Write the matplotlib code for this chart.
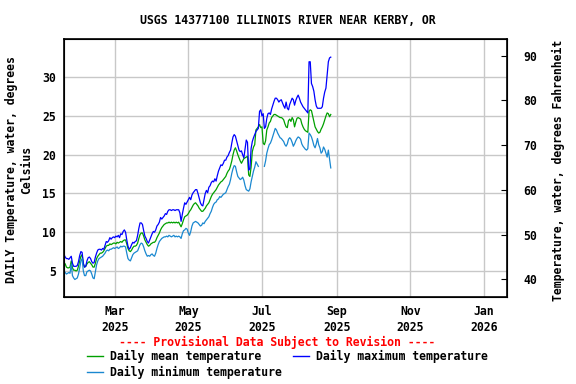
import numpy as np
import pandas as pd
import matplotlib
matplotlib.use('Agg')
import matplotlib.pyplot as plt
import matplotlib.dates as mdates

plt.rcParams['font.family'] = ['DejaVu Sans Mono']
plt.rcParams['font.weight'] = 'bold'

title = 'USGS 14377100 ILLINOIS RIVER NEAR KERBY, OR'
start_date = '2025-01-18'

# daily maximum, deg C
temp_max = [
    7.1, 6.8, 6.6, 6.6, 6.5, 6.7, 6.9, 6.0, 5.6, 5.6,
    5.6, 5.7, 6.2, 7.0, 7.5, 7.4, 6.0, 5.5, 5.6, 6.3,
    6.7, 6.8, 6.6, 6.2, 6.0, 6.1, 6.8, 7.3, 7.7, 7.8,
    7.8, 7.7, 7.9, 7.8, 8.3, 8.8, 8.7, 8.9, 9.3, 9.1,
    9.3, 9.4, 9.3, 9.5, 9.4, 9.6, 9.3, 9.8, 9.7, 10.1,
    10.3, 10.0, 9.0, 8.2, 7.8, 8.0, 8.4, 8.7, 8.6, 8.8,
    8.9, 9.6, 10.5, 11.2, 11.2, 11.0, 10.2, 9.5, 9.2, 8.8,
    8.6, 9.0, 9.4, 9.8, 10.1, 10.0, 10.3, 10.8, 11.0, 11.3,
    11.9, 11.7, 11.9, 12.1, 12.4, 12.3, 12.7, 12.9, 12.9, 12.8,
    12.9, 12.9, 12.8, 12.9, 12.9, 12.9, 12.5, 11.4, 12.3, 13.1,
    13.8, 13.6, 13.9, 14.2, 14.5, 14.2, 14.8, 15.1, 15.3, 15.5,
    15.5, 15.0, 14.4, 13.8, 13.5, 13.4, 14.2, 15.0, 15.4, 15.1,
    15.8, 16.0, 16.4, 16.6, 16.5, 16.9, 16.6, 17.3, 17.9, 18.3,
    18.7, 18.6, 18.9, 19.3, 19.3, 19.7, 19.9, 20.3, 20.6, 21.5,
    22.3, 22.6, 22.4, 21.8, 21.2, 20.6, 20.4, 20.5, 20.0, 19.6,
    20.8, 21.9, 21.6, 18.0, 18.2, 20.8, 21.7, 22.2, 22.6, 23.0,
    23.2, 23.4, 25.6, 25.8, 25.0, 25.3, 23.4, 23.6, 24.7, 25.3,
    25.4, 25.2, 25.9, 26.4, 26.9, 27.3, 27.3, 27.1, 26.8, 27.0,
    27.1, 26.7, 26.3, 26.0, 26.8, 26.0, 25.8, 26.5, 26.9, 27.3,
    27.1, 26.4, 27.0, 27.4, 27.7, 27.3, 26.8, 26.5, 26.2, 26.0,
    25.8, 25.6, 25.4, 32.0, 32.0, 29.2, 28.8, 28.2, 27.1, 26.3,
    26.0, 26.0, 26.0, 26.0, 26.2, 27.3, 28.1, 28.6, 30.3, 32.0,
    32.5, 32.6,
]

# daily mean, deg C
temp_mean = [
    6.1, 5.9, 5.5, 5.4, 5.4, 5.5, 6.3, 5.4, 5.1, 5.1,
    5.0, 5.1, 5.6, 6.3, 6.9, 7.1, 5.9, 5.5, 5.6, 5.9,
    6.1, 6.2, 6.0, 5.8, 5.5, 5.5, 6.0, 6.6, 6.9, 7.1,
    7.3, 7.3, 7.4, 7.6, 7.9, 8.2, 8.3, 8.3, 8.5, 8.4,
    8.5, 8.6, 8.6, 8.5, 8.7, 8.6, 8.7, 8.8, 8.7, 8.9,
    9.0, 9.0, 8.5, 7.9, 7.6, 7.5, 7.7, 8.0, 8.2, 8.2,
    8.3, 8.6, 9.2, 9.7, 9.9, 9.9, 9.5, 9.0, 8.7, 8.4,
    8.2, 8.3, 8.5, 8.6, 8.7, 8.7, 8.9, 9.3, 9.6, 9.9,
    10.3, 10.6, 10.8, 11.0, 11.1, 11.2, 11.2, 11.3, 11.2, 11.3,
    11.2, 11.3, 11.2, 11.3, 11.2, 11.3, 11.0, 10.7, 11.1, 11.6,
    12.0, 12.1, 12.2, 12.4, 12.7, 12.9, 13.2, 13.5, 13.7, 13.8,
    13.6, 13.4, 13.1, 12.9, 12.7, 12.7, 12.9, 13.1, 13.4, 13.6,
    13.8, 14.2, 14.6, 14.9, 15.1, 15.3, 15.5, 15.8, 16.1, 16.3,
    16.5, 16.6, 16.8, 17.0, 17.2, 17.6, 17.9, 18.1, 18.6, 19.2,
    20.0, 20.6, 20.9, 20.5, 20.0, 19.6, 19.2, 18.9, 19.2, 19.5,
    19.6, 19.7, 19.8, 17.4, 17.2, 18.4, 20.4, 21.0, 21.3, 23.2,
    23.4, 23.6, 23.9, 23.5, 23.6, 21.5, 21.3, 21.8, 23.2, 23.6,
    24.1, 24.3, 24.8, 25.0, 25.2, 25.2, 25.1, 25.0, 24.9, 24.8,
    24.8, 24.7, 24.5, 24.0, 23.6, 23.5, 24.4, 24.6, 24.3, 24.8,
    24.5, 23.6, 24.2, 24.7, 24.8, 24.7, 24.6, 24.0, 23.6, 23.3,
    23.1, 23.0, 22.9, 25.6, 25.8, 25.7, 25.0, 24.3, 23.6, 23.3,
    23.0, 22.8, 22.9, 23.3, 23.6, 24.0, 24.5, 25.0, 25.4, 25.3,
    24.9, 25.2,
]

# daily minimum, deg C (nan = missing)
nan = np.nan
temp_min = [
    5.0, 4.8, 4.6, 4.7, 4.8, 4.7, 5.9, 4.4, 4.1, 3.9,
    4.0, 4.1, 4.6, 5.4, 6.3, 6.6, 5.0, 4.4, 4.4, 4.9,
    5.0, 5.1, 5.0, 4.6, 4.1, 4.0, 4.9, 5.8, 6.3, 6.6,
    6.7, 6.8, 6.9, 7.1, 7.3, 7.6, 7.7, 7.6, 7.8, 7.8,
    7.9, 8.0, 7.9, 8.0, 8.1, 7.9, 8.0, 8.2, 8.1, 8.2,
    8.2, 8.1, 7.3, 6.6, 6.4, 6.3, 6.7, 7.1, 7.3, 7.4,
    7.5, 7.6, 8.0, 8.4, 8.6, 8.5, 8.1, 7.6, 7.2, 6.9,
    7.0, 6.9, 7.1, 7.2, 7.0, 6.9, 7.3, 7.9, 8.4, 8.8,
    9.0, 9.2, 9.3, 9.4, 9.4, 9.5, 9.4, 9.6, 9.5, 9.4,
    9.5, 9.6, 9.4, 9.5, 9.4, 9.5, 9.4, 9.2, 9.8, 10.2,
    10.3, 10.5, 10.4, 9.9, 9.6, 10.1, 10.8, 11.2, 11.3, 11.4,
    11.3, 11.2, 11.0, 10.8, 10.9, 11.2, 11.1, 11.4, 11.6, 11.8,
    12.0, 12.4, 12.7, 13.2, 13.6, 13.8, 13.9, 14.2, 14.3, 14.6,
    14.5, 14.7, 14.9, 15.0, 15.1, 15.5, 15.9, 16.2, 16.8, 17.6,
    18.2, 18.6, 18.5, 17.8, 17.2, 17.0, 16.8, 16.9, 17.1, 16.7,
    16.0, 15.5, 15.4, 15.3, 15.6, 16.5, 17.2, 17.9, 18.4, 19.1,
    18.8, 18.5, nan, nan, nan, nan, 18.5, 19.2, 20.2, 20.8,
    21.3, 21.5, 21.9, 22.4, 22.9, 23.4, 23.2, 22.8, 22.5, 22.2,
    22.1, 21.9, 21.7, 21.3, 21.1, 21.4, 22.0, 22.2, 22.0, 21.6,
    21.1, 21.4, 21.8, 22.1, 22.3, 22.2, 22.0, 21.4, 21.1, 20.9,
    20.7, 20.6, 20.8, 22.8, 22.6, 22.3, 21.8, 21.2, 20.9, 21.4,
    22.1, 21.3, 20.9, 20.2, 20.4, 21.0, 20.7, 20.2, 19.7, 20.6,
    19.4, 18.3,
]

dates = pd.date_range(start_date, periods=len(temp_mean), freq='D')

fig = plt.figure(figsize=(5.76, 3.84), dpi=100)
ax = fig.add_axes([64/576, 1 - 297/384, 443/576, 258/384])

grid_col = '#c8c8c8'
ax.plot(dates, temp_mean, color='#00a000', lw=0.9, zorder=3)
ax.plot(dates, temp_max, color='#0000ff', lw=0.9, zorder=3)
ax.plot(dates, temp_min, color='#1a88d0', lw=0.9, zorder=3)

ax.set_xlim(pd.Timestamp('2025-01-18'), pd.Timestamp('2026-01-20'))
ax.set_ylim(1.64, 34.94)
ax.set_yticks([5, 10, 15, 20, 25, 30])
ax.xaxis.set_major_locator(mdates.MonthLocator(bymonth=[1, 3, 5, 7, 9, 11]))
ax.xaxis.set_major_formatter(mdates.DateFormatter('%b\n%Y'))
ax.grid(True, color=grid_col, lw=1, zorder=0)
ax.tick_params(axis='both', length=0, labelsize=8.3, pad=6)
for lab in ax.get_xticklabels():
    lab.set_linespacing(1.3)
for s in ax.spines.values():
    s.set_linewidth(1.2)

ax2 = ax.twinx()
ax2.set_ylim(36.04, 93.73)
ax2.set_yticks([40, 50, 60, 70, 80, 90])
ax2.tick_params(axis='y', direction='in', length=4, labelsize=8.3, pad=12)

fig.text(0.5, 1 - 20/384, title, ha='center', va='center', fontsize=8.3, fontweight='bold')
fig.text(19/576, 1 - 170/384, 'DAILY Temperature, water, degrees\nCelsius', rotation=90,
         ha='center', va='center', fontsize=8.3, linespacing=1.15)
fig.text(558/576, 1 - 170/384, 'Temperature, water, degrees Fahrenheit', rotation=90,
         ha='center', va='center', fontsize=8.3)

fig.text(277/576, 1 - 342/384, '---- Provisional Data Subject to Revision ----',
         ha='center', va='center', color='red', fontsize=8.3)

legend_items = [
    ('Daily mean temperature', '#00a000', 87, 356),
    ('Daily maximum temperature', '#0000ff', 293, 356),
    ('Daily minimum temperature', '#1a88d0', 87, 372),
]
for label, col, lx, ly in legend_items:
    fig.add_artist(plt.Line2D([lx/576, (lx + 16)/576], [1 - ly/384, 1 - ly/384], color=col, lw=1))
    fig.text((lx + 23)/576, 1 - ly/384, label, ha='left', va='center', fontsize=8.3)

fig.savefig('out.png', dpi=100)
